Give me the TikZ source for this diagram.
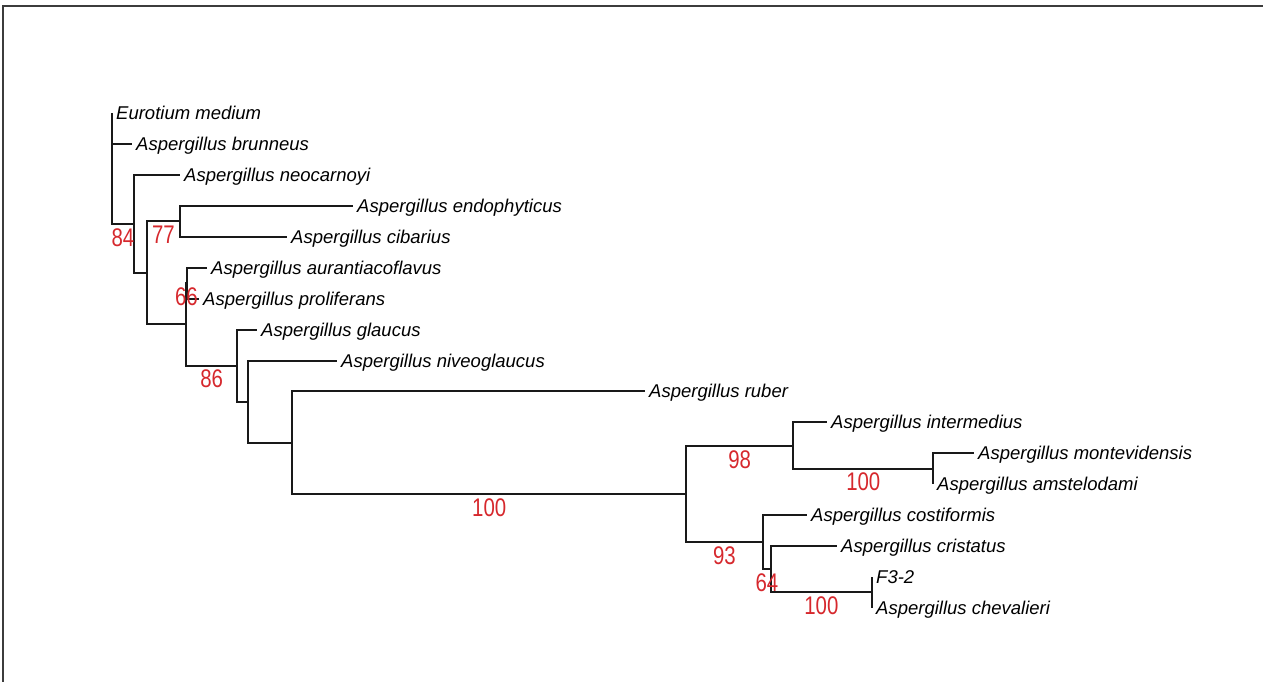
\documentclass[tikz,border=0pt]{standalone}
\usepackage{fontspec}
\newfontfamily\taxfont{Liberation Sans}
\newfontfamily\bootfont[FakeStretch=0.8]{Liberation Sans}
\definecolor{bootred}{RGB}{214,40,45}
\definecolor{framegray}{RGB}{60,60,60}
\begin{document}
\begin{tikzpicture}[x=1pt,y=1pt,
    branch/.style={black!90, line width=2pt},
    taxon/.style={anchor=base west, xshift=4pt, yshift=-6.6pt, font=\taxfont\itshape\fontsize{18.5}{20}\selectfont},
    boot/.style={text=bootred, font=\bootfont\fontsize{25.5}{26}\selectfont}]
    \tikzstyle{every node}+=[inner sep=0pt]
    \useasboundingbox (0,0) rectangle (1263,-682);
    \draw [framegray, line width=2pt] (3,-682) -- (3,-6) -- (1263,-6);
    \coordinate (eurotium) at (112,-113);
    \coordinate (brunneus) at (132,-144);
    \coordinate (neocarnoyi) at (180,-175);
    \coordinate (endophyticus) at (353,-206);
    \coordinate (cibarius) at (287,-237);
    \coordinate (aurantiacoflavus) at (207,-268);
    \coordinate (proliferans) at (199,-299);
    \coordinate (glaucus) at (257,-330);
    \coordinate (niveoglaucus) at (337,-361);
    \coordinate (ruber) at (645,-391);
    \coordinate (intermedius) at (827,-422);
    \coordinate (montevidensis) at (974,-453);
    \coordinate (amstelodami) at (933,-484);
    \coordinate (costiformis) at (807,-515);
    \coordinate (cristatus) at (837,-546);
    \coordinate (fthree) at (872,-577);
    \coordinate (chevalieri) at (872,-608);
    \coordinate (root) at (112,-169);
    \coordinate (nA) at (134,-224);
    \coordinate (nB) at (147,-273);
    \coordinate (nC) at (180,-221);
    \coordinate (nD) at (186,-324);
    \coordinate (nN) at (187,-283);
    \coordinate (nE) at (237,-366);
    \coordinate (nF) at (248,-402);
    \coordinate (nG) at (292,-443);
    \coordinate (nH) at (686,-494);
    \coordinate (nI) at (793,-446);
    \coordinate (nJ) at (933,-469);
    \coordinate (nK) at (763,-542);
    \coordinate (nL) at (771,-569);
    \coordinate (nM) at (872,-592);
    \draw [branch] (root) |- (eurotium);
    \draw [branch] (root) |- (brunneus);
    \draw [branch] (root) |- (nA);
    \draw [branch] (nA) |- (neocarnoyi);
    \draw [branch] (nA) |- (nB);
    \draw [branch] (nB) |- (nC);
    \draw [branch] (nB) |- (nD);
    \draw [branch] (nC) |- (endophyticus);
    \draw [branch] (nC) |- (cibarius);
    \draw [branch] (nD) |- (nN);
    \draw [branch] (nD) |- (nE);
    \draw [branch] (nN) |- (aurantiacoflavus);
    \draw [branch] (nN) |- (proliferans);
    \draw [branch] (nE) |- (glaucus);
    \draw [branch] (nE) |- (nF);
    \draw [branch] (nF) |- (niveoglaucus);
    \draw [branch] (nF) |- (nG);
    \draw [branch] (nG) |- (ruber);
    \draw [branch] (nG) |- (nH);
    \draw [branch] (nH) |- (nI);
    \draw [branch] (nH) |- (nK);
    \draw [branch] (nI) |- (intermedius);
    \draw [branch] (nI) |- (nJ);
    \draw [branch] (nJ) |- (montevidensis);
    \draw [branch] (nJ) |- (amstelodami);
    \draw [branch] (nK) |- (costiformis);
    \draw [branch] (nK) |- (nL);
    \draw [branch] (nL) |- (cristatus);
    \draw [branch] (nL) |- (nM);
    \draw [branch] (nM) |- (fthree);
    \draw [branch] (nM) |- (chevalieri);
    \node [taxon] (tEurotium) at (eurotium) {Eurotium medium};
    \node [taxon] (tBrunneus) at (brunneus) {Aspergillus brunneus};
    \node [taxon] (tNeocarnoyi) at (neocarnoyi) {Aspergillus neocarnoyi};
    \node [taxon] (tEndophyticus) at (endophyticus) {Aspergillus endophyticus};
    \node [taxon] (tCibarius) at (cibarius) {Aspergillus cibarius};
    \node [taxon] (tAurantiacoflavus) at (aurantiacoflavus) {Aspergillus aurantiacoflavus};
    \node [taxon] (tProliferans) at (proliferans) {Aspergillus proliferans};
    \node [taxon] (tGlaucus) at (glaucus) {Aspergillus glaucus};
    \node [taxon] (tNiveoglaucus) at (niveoglaucus) {Aspergillus niveoglaucus};
    \node [taxon] (tRuber) at (ruber) {Aspergillus ruber};
    \node [taxon] (tIntermedius) at (intermedius) {Aspergillus intermedius};
    \node [taxon] (tMontevidensis) at (montevidensis) {Aspergillus montevidensis};
    \node [taxon] (tAmstelodami) at (amstelodami) {Aspergillus amstelodami};
    \node [taxon] (tCostiformis) at (costiformis) {Aspergillus costiformis};
    \node [taxon] (tCristatus) at (cristatus) {Aspergillus cristatus};
    \node [taxon] (tFthree) at (fthree) {F3-2};
    \node [taxon] (tChevalieri) at (chevalieri) {Aspergillus chevalieri};
    \node [boot] (bA) at (123,-237.5) {84};
    \node [boot] (bC) at (163.5,-235) {77};
    \node [boot] (bN) at (186.5,-297) {66};
    \node [boot] (bE) at (211.6,-378.8) {86};
    \node [boot] (bH) at (489.2,-508) {100};
    \node [boot] (bI) at (739.6,-459.5) {98};
    \node [boot] (bJ) at (863.3,-482.2) {100};
    \node [boot] (bK) at (724.4,-555.5) {93};
    \node [boot] (bL) at (766.9,-582.6) {64};
    \node [boot] (bM) at (821.4,-605.8) {100};
\end{tikzpicture}
\end{document}
